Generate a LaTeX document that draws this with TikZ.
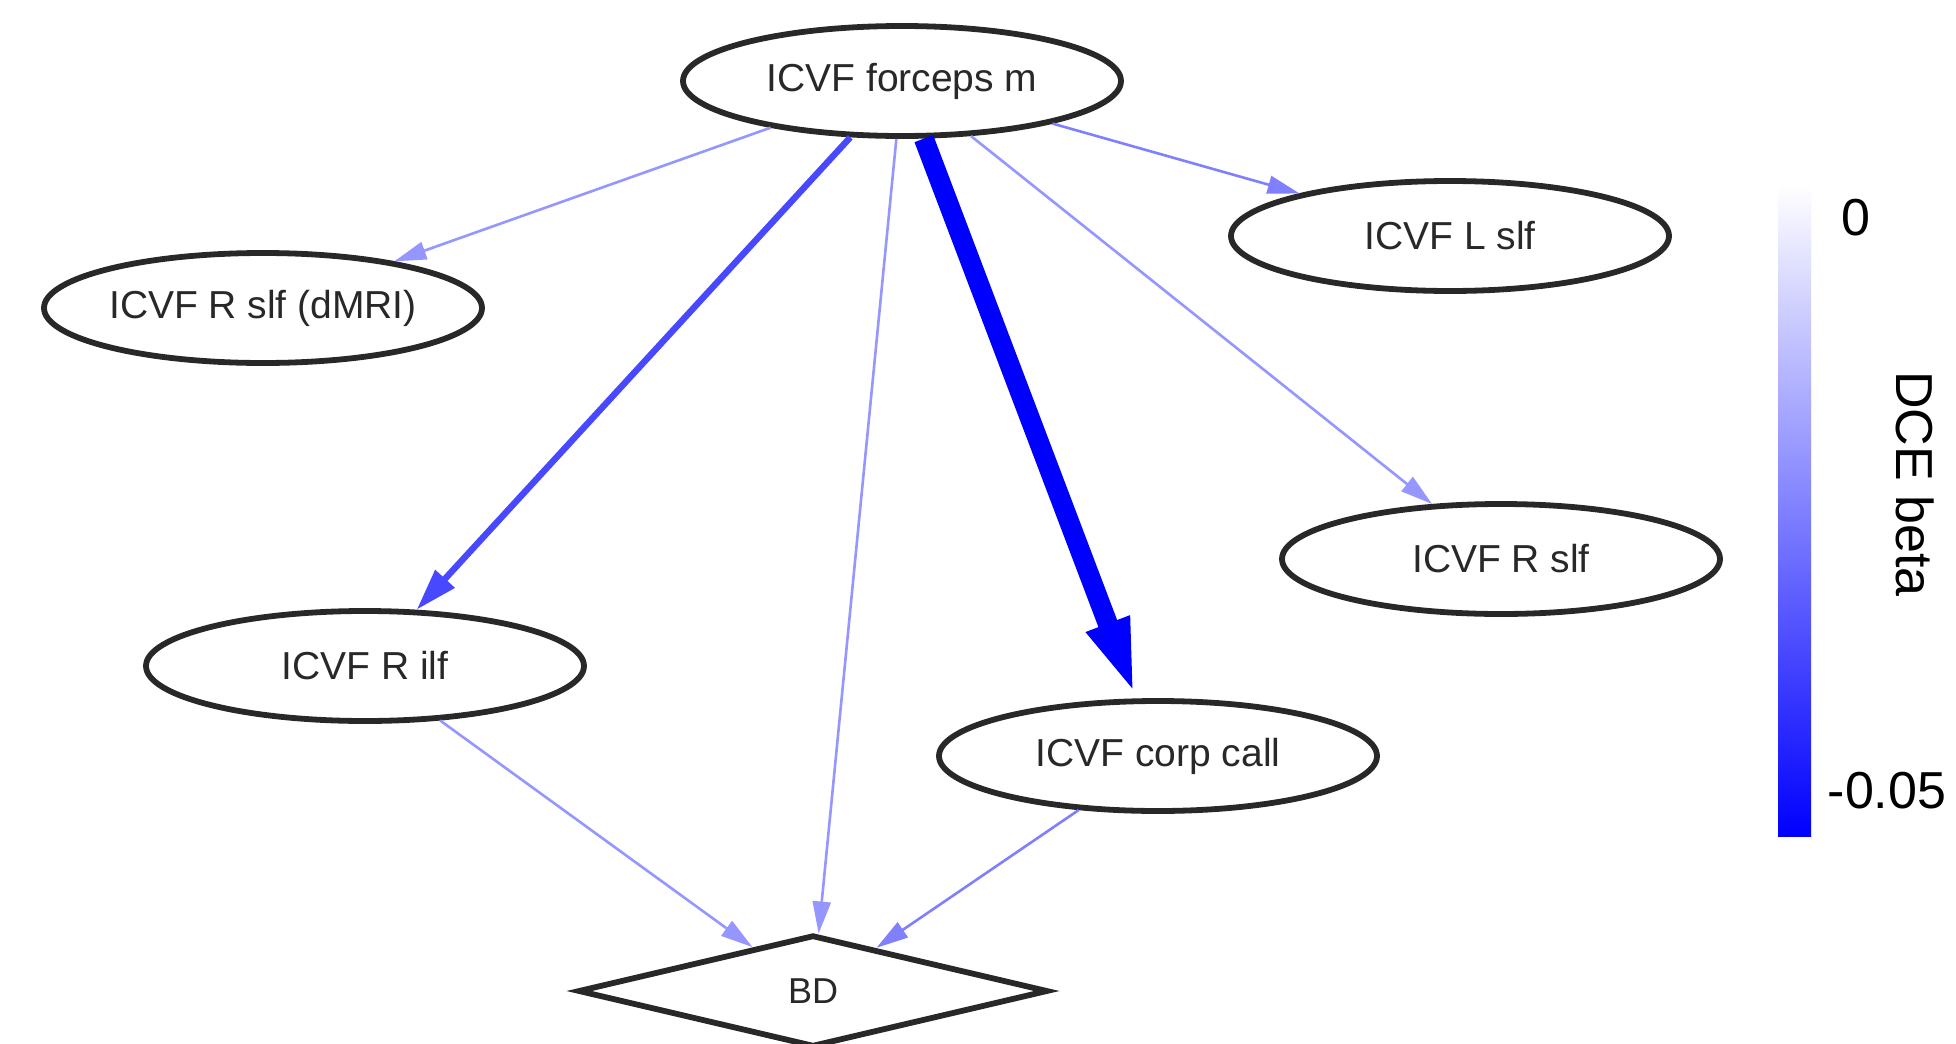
\documentclass[tikz,border=0pt]{standalone}
\usepackage{fontspec}
\setmainfont{Liberation Sans}
\usetikzlibrary{shapes.geometric,arrows.meta}
\definecolor{nodegray}{RGB}{40,40,40}
\definecolor{ethin}{RGB}{150,150,255}
\definecolor{ethinb}{RGB}{128,128,255}
\definecolor{emid}{RGB}{72,72,255}
\definecolor{estrong}{RGB}{0,0,255}
\begin{document}
\begin{tikzpicture}[x=0.5pt,y=-0.5pt,
  nd/.style={ellipse, draw=nodegray, line width=2.9pt, minimum width=219pt,
    minimum height=55pt, inner sep=0pt, text=nodegray, font=\fontsize{19.5}{22}\selectfont},
  dnd/.style={diamond, draw=nodegray, line width=2.9pt, minimum width=235pt,
    minimum height=56pt, inner sep=0pt, text=nodegray, font=\fontsize{18}{21}\selectfont},
  ethinedge/.style={draw=ethin, line width=1.3pt, -{Triangle[length=16pt,width=9pt]}},
  ethinbedge/.style={draw=ethinb, line width=1.3pt, -{Triangle[length=16pt,width=9pt]}},
  emidedge/.style={draw=emid, line width=3.2pt, -{Triangle[length=21pt,width=12.5pt]}},
  estrongedge/.style={draw=estrong, line width=10pt, -{Triangle[length=40pt,width=20pt]}},
  cblabel/.style={font=\fontsize{26}{30}\selectfont, text=black, inner sep=0pt}
]
\useasboundingbox (0,0) rectangle (1956,1044);
\fill[white] (0,0) rectangle (1956,1044);

\node[nd] (fm) at (902,81) {ICVF forceps m};
\node[nd] (lslf) at (1450,236) {ICVF L slf};
\node[nd] (dmri) at (263,308) {ICVF R slf (dMRI)};
\node[nd] (rslf) at (1501,559) {ICVF R slf};
\node[nd] (rilf) at (365,666) {ICVF R ilf};
\node[nd] (cc) at (1158,756) {ICVF corp call};
\node[dnd] (bd) at (813,991) {BD};

\draw[ethinedge] (fm) -- (dmri);
\draw[emidedge] (fm) -- (rilf);
\draw[ethinedge] (fm) -- (bd);
\draw[estrongedge] (fm) -- (cc);
\draw[ethinedge] (fm) -- (rslf);
\draw[ethinbedge] (fm) -- (lslf);
\draw[ethinedge] (rilf) -- (bd);
\draw[ethinbedge] (cc) -- (bd);

% colour bar
\shade[top color=white, bottom color=estrong] (1778,185) rectangle (1811,836);
\node[cblabel] (zero) at (1856,218) {0};
\node[cblabel] (mfive) at (1887,791) {-0.05};
\node[cblabel, rotate=-90] (dce) at (1915,484) {DCE beta};
\end{tikzpicture}
\end{document}
